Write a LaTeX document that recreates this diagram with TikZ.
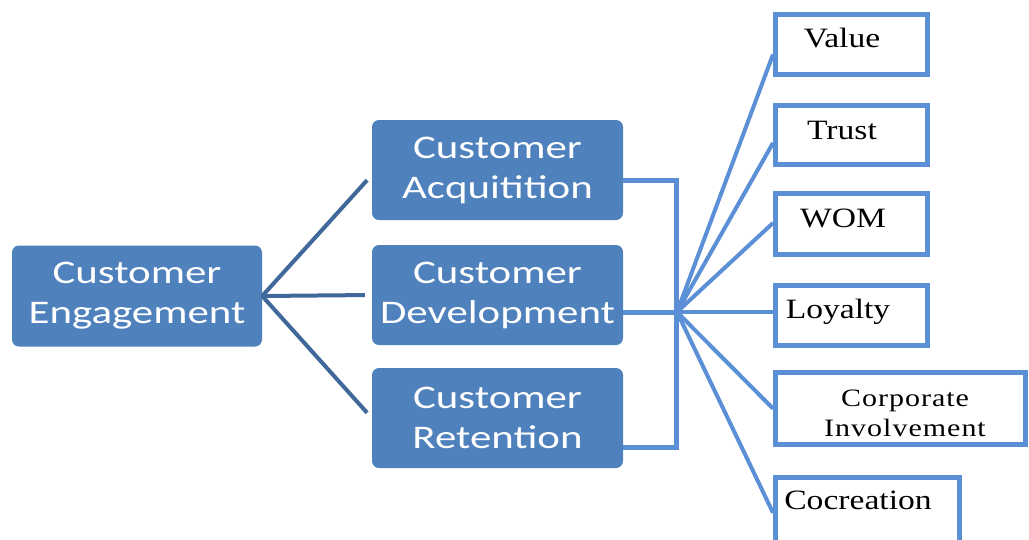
\documentclass[tikz,border=0pt]{standalone}
\usepackage{fontspec}
\setmainfont[FakeStretch=1.2]{Liberation Serif}
\newfontfamily\calib[FakeStretch=1.3]{Carlito}
\newfontfamily\corpfont[FakeStretch=1.2, LetterSpace=4]{Liberation Serif}
\usetikzlibrary{calc}
\definecolor{boxblue}{HTML}{4F81BD}
\definecolor{darkline}{HTML}{41689A}
\definecolor{lightline}{HTML}{5B8FD6}
\begin{document}
\begin{tikzpicture}[x=1pt,y=-1pt,
  darkbox/.style={fill=boxblue, rounded corners=7pt, text=white,
    font=\calib\fontsize{33}{40}\selectfont, align=center, inner sep=0pt,
    minimum width=251pt, minimum height=100pt},
  litbox/.style={draw=lightline, line width=5pt, fill=white, inner sep=0pt,
    minimum width=152pt, minimum height=60pt},
  littext/.style={font=\fontsize{28}{30}\selectfont, inner sep=0pt, align=center},
  darkconn/.style={draw=darkline, line width=4pt},
  lightconn/.style={draw=lightline, line width=5pt},
  fanconn/.style={draw=lightline, line width=4pt}]
\clip (0,0) rectangle (1029,539);
\fill[white] (0,0) rectangle (1029,539);
% left and middle boxes
\node[darkbox, minimum width=250pt, minimum height=101pt] (eng) at (137,296) {Customer\\Engagement};
\node[darkbox] (acq) at (497.5,170) {Customer\\Acquitition};
\node[darkbox] (dev) at (497.5,295) {Customer\\Development};
\node[darkbox] (ret) at (497.5,418) {Customer\\Retention};
% connectors from engagement
\draw[darkconn, shorten >=7pt] (eng.east) -- ($(acq.west)+(0,5)$);
\draw[darkconn, shorten >=7pt] (eng.east) -- (dev.west);
\draw[darkconn, shorten >=7pt] (eng.east) -- (ret.west);
% bracket
\coordinate (hub) at (677,312);
\draw[lightconn] ($(acq.east)+(0,10)$) -| ($(ret.east)+(53,29)$) -- ($(ret.east)+(0,29)$);
\draw[lightconn] ($(dev.east)+(0,17)$) -- (hub);
% right boxes
\node[litbox] (value) at (851.5,44.5) {};
\node[litbox, minimum height=59pt] (trust) at (851.5,135) {};
\node[litbox, minimum height=61pt] (wom) at (851.5,224) {};
\node[litbox] (loyalty) at (851.5,315.5) {};
\node[litbox, minimum width=250pt, minimum height=72pt] (corp) at (900.5,408.5) {};
\node[litbox, minimum width=184pt, minimum height=92.5pt] (coc) at (867.5,523.75) {};
\node[littext] (valuetext) at (842,38) {Value};
\node[littext] (trusttext) at (842,130) {Trust};
\node[littext] (womtext) at (843,218) {WOM};
\node[littext] (loyaltytext) at (838,312) {Loyalty};
\node[littext, font=\corpfont\fontsize{25}{30}\selectfont] (corptext) at (905,413) {Corporate\\Involvement};
\node[littext] (coctext) at (858,500) {Cocreation};
% fan connectors
\draw[fanconn] (hub) -- ($(value.west)+(0,10)$);
\draw[fanconn] (hub) -- ($(trust.west)+(0,8)$);
\draw[fanconn] (hub) -- ($(wom.west)+(0,-1)$);
\draw[fanconn] (hub) -- ($(loyalty.west)+(0,-3.5)$);
\draw[fanconn] (hub) -- (corp.west);
\draw[fanconn] (hub) -- ($(coc.west)+(0,-11)$);
\end{tikzpicture}
\end{document}
